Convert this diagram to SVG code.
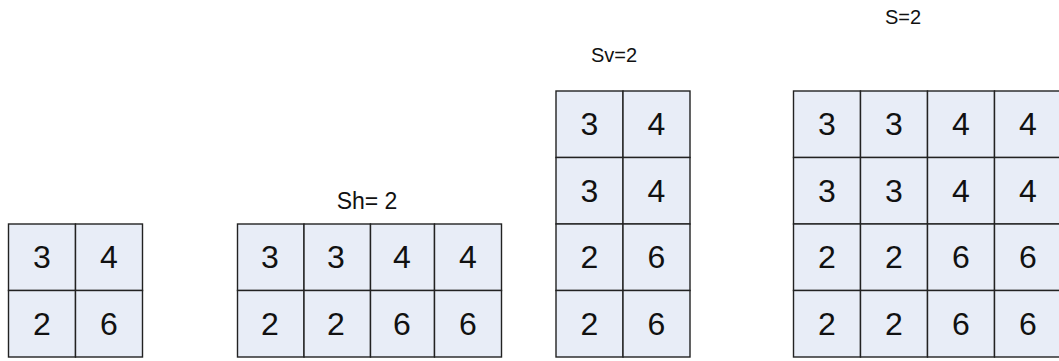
<svg xmlns="http://www.w3.org/2000/svg" width="1059" height="361" viewBox="0 0 1059 361">
<style>
.c{fill:#e8edf7;stroke:#222;stroke-width:1.4}
.d{font-family:"Liberation Sans",Arial,sans-serif;font-size:32px;fill:#111;text-anchor:middle}
.l{font-family:"Liberation Sans",Arial,sans-serif;fill:#111;text-anchor:middle}
</style>
<rect width="1059" height="361" fill="#ffffff"/>
<g id="grid-original">
<rect class="c" x="8.5" y="224" width="67" height="66.5"/>
<rect class="c" x="75.5" y="224" width="67" height="66.5"/>
<rect class="c" x="8.5" y="290.5" width="67" height="66.5"/>
<rect class="c" x="75.5" y="290.5" width="67" height="66.5"/>
<text class="d" x="42" y="268">3</text>
<text class="d" x="109" y="268">4</text>
<text class="d" x="42" y="334.5">2</text>
<text class="d" x="109" y="334.5">6</text>
</g>
<g id="grid-sh">
<text class="l" x="367" y="209" font-size="23">Sh= 2</text>
<rect class="c" x="237.5" y="224" width="66.5" height="66.5"/>
<rect class="c" x="304" y="224" width="66.5" height="66.5"/>
<rect class="c" x="370.5" y="224" width="64" height="66.5"/>
<rect class="c" x="434.5" y="224" width="67" height="66.5"/>
<rect class="c" x="237.5" y="290.5" width="66.5" height="66.5"/>
<rect class="c" x="304" y="290.5" width="66.5" height="66.5"/>
<rect class="c" x="370.5" y="290.5" width="64" height="66.5"/>
<rect class="c" x="434.5" y="290.5" width="67" height="66.5"/>
<text class="d" x="270" y="268">3</text>
<text class="d" x="336" y="268">3</text>
<text class="d" x="402" y="268">4</text>
<text class="d" x="468" y="268">4</text>
<text class="d" x="270" y="334.5">2</text>
<text class="d" x="336" y="334.5">2</text>
<text class="d" x="402" y="334.5">6</text>
<text class="d" x="468" y="334.5">6</text>
</g>
<g id="grid-sv">
<text class="l" x="614" y="62" font-size="20">Sv=2</text>
<rect class="c" x="556" y="91" width="67" height="66.5"/>
<rect class="c" x="623" y="91" width="67" height="66.5"/>
<rect class="c" x="556" y="157.5" width="67" height="66.5"/>
<rect class="c" x="623" y="157.5" width="67" height="66.5"/>
<rect class="c" x="556" y="224" width="67" height="66.5"/>
<rect class="c" x="623" y="224" width="67" height="66.5"/>
<rect class="c" x="556" y="290.5" width="67" height="66.5"/>
<rect class="c" x="623" y="290.5" width="67" height="66.5"/>
<text class="d" x="589.5" y="135">3</text>
<text class="d" x="656.5" y="135">4</text>
<text class="d" x="589.5" y="201.5">3</text>
<text class="d" x="656.5" y="201.5">4</text>
<text class="d" x="589.5" y="268">2</text>
<text class="d" x="656.5" y="268">6</text>
<text class="d" x="589.5" y="334.5">2</text>
<text class="d" x="656.5" y="334.5">6</text>
</g>
<g id="grid-s">
<text class="l" x="903" y="24" font-size="20">S=2</text>
<rect class="c" x="793.5" y="91" width="67" height="66.5"/>
<rect class="c" x="860.5" y="91" width="67" height="66.5"/>
<rect class="c" x="927.5" y="91" width="67" height="66.5"/>
<rect class="c" x="994.5" y="91" width="67" height="66.5"/>
<rect class="c" x="793.5" y="157.5" width="67" height="66.5"/>
<rect class="c" x="860.5" y="157.5" width="67" height="66.5"/>
<rect class="c" x="927.5" y="157.5" width="67" height="66.5"/>
<rect class="c" x="994.5" y="157.5" width="67" height="66.5"/>
<rect class="c" x="793.5" y="224" width="67" height="66.5"/>
<rect class="c" x="860.5" y="224" width="67" height="66.5"/>
<rect class="c" x="927.5" y="224" width="67" height="66.5"/>
<rect class="c" x="994.5" y="224" width="67" height="66.5"/>
<rect class="c" x="793.5" y="290.5" width="67" height="66.5"/>
<rect class="c" x="860.5" y="290.5" width="67" height="66.5"/>
<rect class="c" x="927.5" y="290.5" width="67" height="66.5"/>
<rect class="c" x="994.5" y="290.5" width="67" height="66.5"/>
<text class="d" x="827" y="135">3</text>
<text class="d" x="894" y="135">3</text>
<text class="d" x="961" y="135">4</text>
<text class="d" x="1028" y="135">4</text>
<text class="d" x="827" y="201.5">3</text>
<text class="d" x="894" y="201.5">3</text>
<text class="d" x="961" y="201.5">4</text>
<text class="d" x="1028" y="201.5">4</text>
<text class="d" x="827" y="268">2</text>
<text class="d" x="894" y="268">2</text>
<text class="d" x="961" y="268">6</text>
<text class="d" x="1028" y="268">6</text>
<text class="d" x="827" y="334.5">2</text>
<text class="d" x="894" y="334.5">2</text>
<text class="d" x="961" y="334.5">6</text>
<text class="d" x="1028" y="334.5">6</text>
</g>
<g id="connectors"></g>
</svg>
